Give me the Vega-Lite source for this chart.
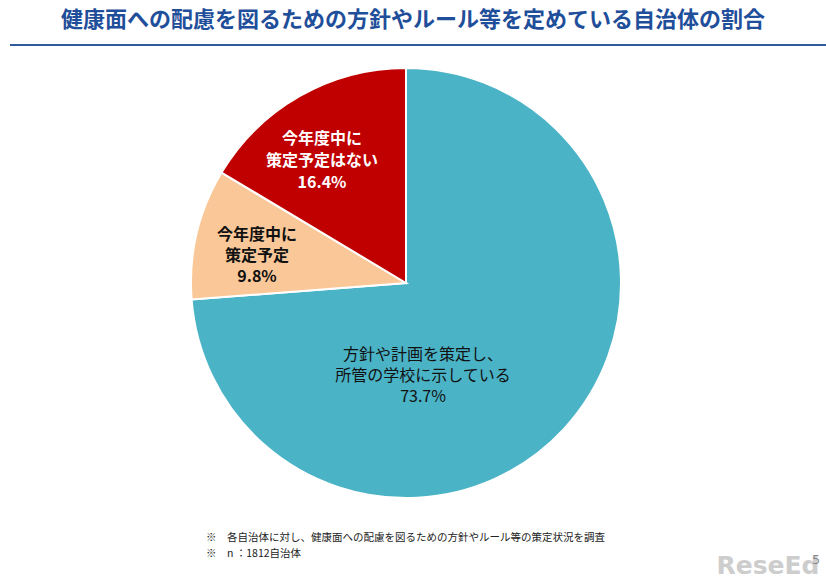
{
  "$schema": "https://vega.github.io/schema/vega-lite/v6.json",
  "width": 826,
  "height": 534,
  "autosize": {"type": "none"},
  "padding": {"top": 50, "left": 0, "right": 0, "bottom": 0},
  "background": "white",
  "config": {"view": {"stroke": null}},
  "title": {
    "text": "健康面への配慮を図るための方針やルール等を定めている自治体の割合",
    "fontSize": 22,
    "fontWeight": "bold",
    "color": "#1F4E9A",
    "font": "Noto Sans CJK JP",
    "anchor": "middle",
    "frame": "group",
    "offset": 12
  },
  "datasets": {
    "pie": [
      {"key": "teal", "ord": 1, "label": "方針や計画を策定し、\n所管の学校に示している", "pct": 73.7},
      {"key": "peach", "ord": 2, "label": "今年度中に\n策定予定", "pct": 9.8},
      {"key": "red", "ord": 3, "label": "今年度中に\n策定予定はない", "pct": 16.4}
    ]
  },
  "layer": [
    {
      "data": {"values": [{}]},
      "mark": {"type": "rule", "color": "#2F5A9E", "strokeWidth": 2},
      "encoding": {"x": {"value": 10}, "x2": {"value": 826}, "y": {"value": -5}}
    },
    {
      "data": {"name": "pie"},
      "mark": {"type": "arc", "radius": 215, "stroke": "white", "strokeWidth": 2},
      "encoding": {
        "theta": {"field": "pct", "type": "quantitative", "stack": true},
        "order": {"field": "ord", "type": "quantitative"},
        "color": {"field": "key", "type": "nominal", "scale": {"domain": ["teal", "peach", "red"], "range": ["#4BB3C6", "#FAC898", "#C00000"]}, "legend": null},
        "x": {"value": 406},
        "y": {"value": 233}
      }
    },
    {
      "data": {"name": "pie"},
      "transform": [{"calculate": "datum.label + '\\n' + format(datum.pct, '.1f') + '%'", "as": "display"}],
      "mark": {"type": "text", "radius": 90, "dx": -49, "dy": 11, "fontSize": 16, "font": "Noto Sans CJK JP", "color": "#111111", "lineBreak": "\n", "lineHeight": 21, "align": "center", "baseline": "middle"},
      "encoding": {
        "theta": {"field": "pct", "type": "quantitative", "stack": true},
        "order": {"field": "ord", "type": "quantitative"},
        "x": {"value": 406},
        "y": {"value": 233},
        "text": {"condition": {"test": "datum.key === 'teal'", "field": "display"}, "value": ""}
      }
    },
    {
      "data": {"name": "pie"},
      "transform": [{"calculate": "datum.label + '\\n' + format(datum.pct, '.1f') + '%'", "as": "display"}],
      "mark": {"type": "text", "radius": 150, "dx": -3, "dy": -14, "fontSize": 16, "fontWeight": "bold", "font": "Noto Sans CJK JP", "color": "#111111", "lineBreak": "\n", "lineHeight": 21, "align": "center", "baseline": "middle"},
      "encoding": {
        "theta": {"field": "pct", "type": "quantitative", "stack": true},
        "order": {"field": "ord", "type": "quantitative"},
        "x": {"value": 406},
        "y": {"value": 233},
        "text": {"condition": {"test": "datum.key === 'peach'", "field": "display"}, "value": ""}
      }
    },
    {
      "data": {"name": "pie"},
      "transform": [{"calculate": "datum.label + '\\n' + format(datum.pct, '.1f') + '%'", "as": "display"}],
      "mark": {"type": "text", "radius": 150, "dx": -10, "dy": -14, "fontSize": 16, "fontWeight": "bold", "font": "Noto Sans CJK JP", "color": "white", "lineBreak": "\n", "lineHeight": 22, "align": "center", "baseline": "middle"},
      "encoding": {
        "theta": {"field": "pct", "type": "quantitative", "stack": true},
        "order": {"field": "ord", "type": "quantitative"},
        "x": {"value": 406},
        "y": {"value": 233},
        "text": {"condition": {"test": "datum.key === 'red'", "field": "display"}, "value": ""}
      }
    },
    {
      "data": {"values": [{"note": "※　各自治体に対し、健康面への配慮を図るための方針やルール等の策定状況を調査\n※　n ：1812自治体"}]},
      "mark": {"type": "text", "fontSize": 10.5, "font": "Noto Sans CJK JP", "color": "#222222", "lineBreak": "\n", "lineHeight": 16, "align": "left", "baseline": "middle"},
      "encoding": {"text": {"field": "note"}, "x": {"value": 206}, "y": {"value": 488}}
    },
    {
      "data": {"values": [{"mark": "ReseEd"}]},
      "mark": {"type": "text", "fontSize": 25, "fontWeight": "bold", "font": "DejaVu Sans", "color": "#CDCDCD", "align": "center", "baseline": "middle"},
      "encoding": {"text": {"field": "mark"}, "x": {"value": 768}, "y": {"value": 516}}
    },
    {
      "data": {"values": [{"page": "5"}]},
      "mark": {"type": "text", "fontSize": 13, "font": "Noto Sans", "color": "#888888", "align": "center", "baseline": "middle"},
      "encoding": {"text": {"field": "page"}, "x": {"value": 816}, "y": {"value": 510}}
    }
  ]
}
